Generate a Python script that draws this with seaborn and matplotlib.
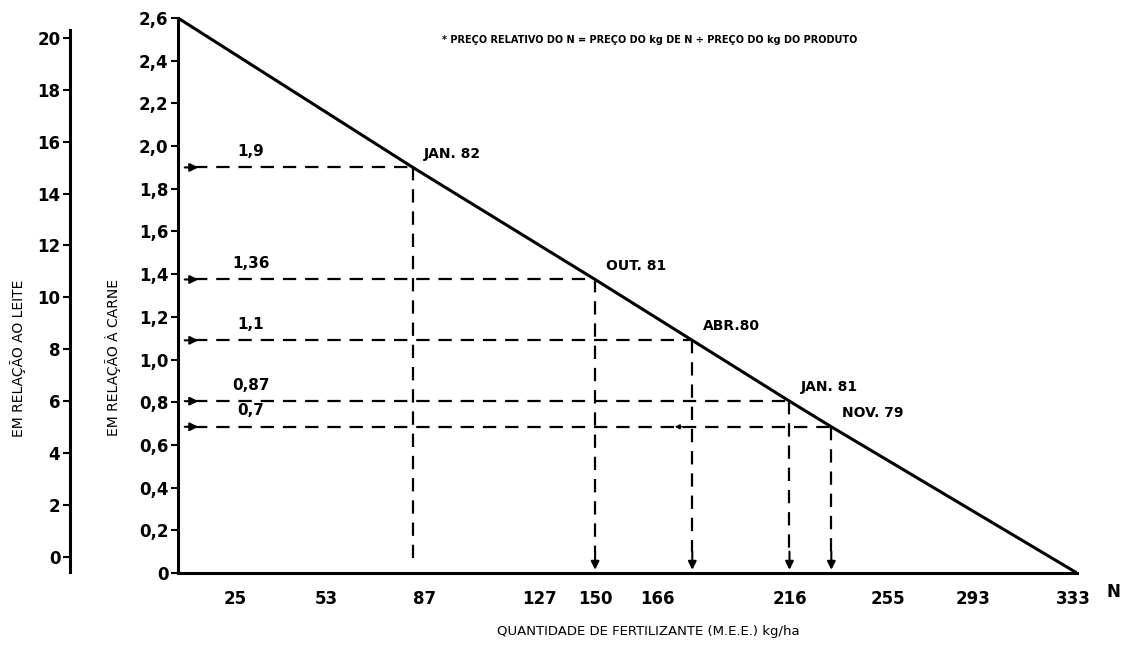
import matplotlib
matplotlib.use("Agg")
import matplotlib.pyplot as plt
import seaborn as sns

# reta do preço relativo do N (passa pelos meses marcados)
line_n = [0, 87, 154.5, 190.5, 226.5, 242, 333]
line_price = [2.6, 1.9, 1.375, 1.09, 0.805, 0.685, 0]

# meses marcados sobre a reta
months = ["JAN. 82", "OUT. 81", "ABR.80", "JAN. 81", "NOV. 79"]
month_n = [87, 154.5, 190.5, 226.5, 242]
month_price = [1.9, 1.375, 1.09, 0.805, 0.685]
price_labels = ["1,9", "1,36", "1,1", "0,87", "0,7"]
down_arrow = [False, True, True, True, True]

# eixo x (posições como no desenho original)
x_ticks = [21, 55, 91.5, 134, 154.5, 177.5, 226.5, 263, 294.5, 331.5]
x_ticklabels = ["25", "53", "87", "127", "150", "166", "216", "255", "293", "333"]

# eixo interno: em relação à carne
carne_ticks = [0, 0.2, 0.4, 0.6, 0.8, 1.0, 1.2, 1.4, 1.6, 1.8, 2.0, 2.2, 2.4, 2.6]
carne_ticklabels = ["0", "0,2", "0,4", "0,6", "0,8", "1,0", "1,2", "1,4",
                    "1,6", "1,8", "2,0", "2,2", "2,4", "2,6"]

# eixo externo: em relação ao leite
leite_ticks = [0, 2, 4, 6, 8, 10, 12, 14, 16, 18, 20]
leite_ticklabels = ["0", "2", "4", "6", "8", "10", "12", "14", "16", "18", "20"]

sns.set_style("ticks")
plt.rcParams["font.family"] = ["DejaVu Sans"]
plt.rcParams["font.weight"] = "bold"
# tudo em preto, como no original impresso
for key in ["text.color", "axes.labelcolor", "xtick.color", "ytick.color", "axes.edgecolor"]:
    plt.rcParams[key] = "black"

fig = plt.figure(figsize=(11.33, 6.57), dpi=100)
ax = fig.add_axes([178 / 1133, 1 - 573 / 657, 899 / 1133, 555 / 657])
ax.patch.set_visible(False)

# reta principal
sns.lineplot(x=line_n, y=line_price, ax=ax, color="black", linewidth=2.2,
             sort=False, estimator=None)

dash = (0, (6, 4))
arrow_kw = dict(arrowstyle="-|>", color="black", lw=1.5, mutation_scale=12,
                shrinkA=0, shrinkB=0)

for name, n, p, lbl, arr in zip(months, month_n, month_price, price_labels, down_arrow):
    # linha tracejada horizontal com seta
    ax.plot([6, n], [p, p], color="black", lw=1.6, linestyle=dash)
    ax.annotate("", xy=(7.5, p), xytext=(2.5, p), arrowprops=arrow_kw)
    ax.annotate(lbl, xy=(27, p), xytext=(0, 6), textcoords="offset points",
                ha="center", va="bottom", fontsize=11)
    # linha tracejada vertical
    if arr:
        ax.plot([n, n], [p, 0.1], color="black", lw=1.6, linestyle=dash)
        ax.annotate("", xy=(n, 0.015), xytext=(n, 0.1), arrowprops=arrow_kw)
    else:
        ax.plot([n, n], [p, 0.037], color="black", lw=1.6, linestyle=dash)
    ax.annotate(name, xy=(n, p), xytext=(8, 10), textcoords="offset points",
                ha="left", va="center", fontsize=10)

# pequena seta residual sobre a linha de 0,7
ax.annotate("", xy=(184, month_price[4]), xytext=(188, month_price[4]),
            arrowprops=dict(arrowstyle="-|>", color="black", lw=1.0,
                            mutation_scale=7, shrinkA=0, shrinkB=0))

ax.set_xlim(0, 333)
ax.set_ylim(0, 2.6)
ax.set_xticks(x_ticks, x_ticklabels)
ax.set_yticks(carne_ticks, carne_ticklabels)
ax.tick_params(axis="x", length=0, pad=12, labelsize=12)
ax.tick_params(axis="y", length=5, width=1.5, pad=2, labelsize=12)
ax.set_xlabel("")
ax.set_ylabel("")
sns.despine(ax=ax)
for side in ["left", "bottom"]:
    ax.spines[side].set_linewidth(2.2)

# eixo externo (leite)
ax2 = fig.add_axes([70 / 1133, 1 - 572 / 657, 0.001, 542 / 657])
ax2.patch.set_visible(False)
ax2.set_ylim(-0.58, 20.3)
ax2.set_xticks([])
ax2.set_yticks(leite_ticks, leite_ticklabels)
ax2.tick_params(axis="y", length=5, width=1.5, pad=2, labelsize=12)
for side in ["top", "right", "bottom"]:
    ax2.spines[side].set_visible(False)
ax2.spines["left"].set_linewidth(2.2)

fig.text(18 / 1133, 1 - 358 / 657, "EM RELAÇÃO AO LEITE", rotation=90,
         ha="center", va="center", fontsize=10, fontweight="normal")
fig.text(113 / 1133, 1 - 358 / 657, "EM RELAÇÃO À CARNE", rotation=90,
         ha="center", va="center", fontsize=10, fontweight="normal")
fig.text(650 / 1133, 1 - 40 / 657,
         "* PREÇO RELATIVO DO N = PREÇO DO kg DE N ÷ PREÇO DO kg DO PRODUTO",
         ha="center", va="center", fontsize=7)
fig.text(1113 / 1133, 1 - 592 / 657, "N", ha="center", va="center", fontsize=12)
fig.text(648 / 1133, 1 - 632 / 657, "QUANTIDADE DE FERTILIZANTE (M.E.E.) kg/ha",
         ha="center", va="center", fontsize=9.5, fontweight="normal")

fig.savefig("out.png", dpi=100)
